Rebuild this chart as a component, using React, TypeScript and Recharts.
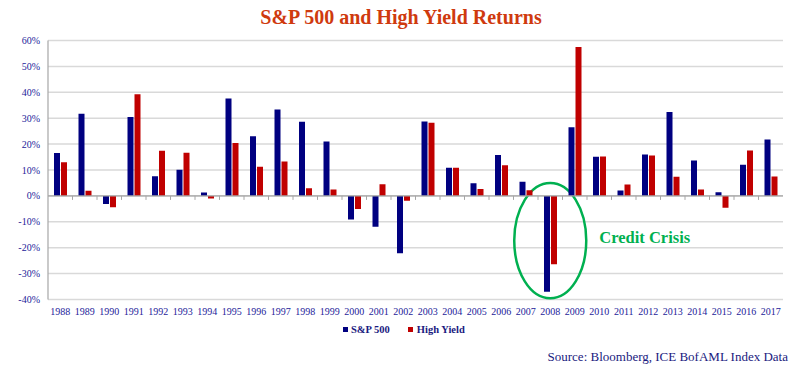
import React from "react";
import { BarChart, Bar, XAxis, YAxis, CartesianGrid, ReferenceLine, ReferenceArea } from "recharts";

const years = ["1988","1989","1990","1991","1992","1993","1994","1995","1996","1997","1998","1999","2000","2001","2002","2003","2004","2005","2006","2007","2008","2009","2010","2011","2012","2013","2014","2015","2016","2017"];
const sp500 = [16.6, 31.7, -3.1, 30.5, 7.6, 10.1, 1.3, 37.6, 23.0, 33.4, 28.6, 21.0, -9.1, -11.9, -22.1, 28.7, 10.9, 4.9, 15.8, 5.5, -37.0, 26.5, 15.1, 2.1, 16.0, 32.4, 13.7, 1.4, 12.0, 21.8];
const highYield = [13.0, 2.0, -4.4, 39.2, 17.4, 16.7, -1.0, 20.4, 11.3, 13.3, 3.0, 2.5, -5.1, 4.5, -1.9, 28.2, 10.9, 2.7, 11.8, 2.2, -26.4, 57.5, 15.2, 4.4, 15.6, 7.4, 2.5, -4.6, 17.5, 7.5];
const yTicks = [-40, -30, -20, -10, 0, 10, 20, 30, 40, 50, 60];

const data = years.map((y, i) => ({ year: y, sp: sp500[i], hy: highYield[i] }));

const SERIF = '"Liberation Serif", "Times New Roman", serif';
const NAVY = "#000080";
const RED = "#C00000";
const TICK_COLOR = "#23239a";

const ZeroLine = (props: any) => {
  const { x1, y1, x2, y2 } = props;
  const n = years.length;
  const step = (x2 - x1) / n;
  const ticks = [];
  for (let i = 1; i < n; i++) {
    const x = x1 + step * i;
    ticks.push(<line key={i} x1={x} x2={x} y1={y1} y2={y1 + 4} stroke="#a6a6a6" strokeWidth={1} />);
  }
  return (
    <g>
      <line x1={x1} y1={y1} x2={x2} y2={y2} stroke="#a6a6a6" strokeWidth={1.2} />
      {ticks}
    </g>
  );
};

const CrisisShape = (props: any) => {
  const { x, y, width, height } = props;
  const cx = x + width / 2;
  const cy = y + height / 2;
  const rx = width * 1.47;
  const ry = height / 2;
  return (
    <g>
      <ellipse cx={cx} cy={cy} rx={rx} ry={ry} fill="none" stroke="#00B050" strokeWidth={2.5} />
      <text x={cx + rx + 13} y={cy + 2} fill="#00B050" fontFamily={SERIF} fontWeight="bold" fontSize={16.5}>
        Credit Crisis
      </text>
    </g>
  );
};

export default function App() {
  return (
    <div style={{ position: "absolute", left: 0, top: 0, width: 797, height: 371, background: "#fff", fontFamily: SERIF }}>
      <div style={{ position: "absolute", left: 0, top: 5, width: 802, textAlign: "center", color: "#CF3A0E", fontWeight: "bold", fontSize: 20, lineHeight: "24px" }}>
        S&amp;P 500 and High Yield Returns
      </div>
      <BarChart width={797} height={371} data={data} margin={{ top: 40.5, right: 14, left: 0, bottom: 51.5 }} barSize={6} barGap={1} barCategoryGap={0}>
        <CartesianGrid vertical={false} stroke="#d9d9d9" strokeWidth={1.5} />
        <XAxis dataKey="year" axisLine={false} tickLine={false} tickSize={0} tickMargin={8} height={20} interval={0}
          tick={{ fill: TICK_COLOR, fontSize: 10, fontFamily: SERIF }} />
        <YAxis domain={[-40, 60]} ticks={yTicks} width={48} tickLine={false} tickSize={0} tickMargin={8}
          axisLine={{ stroke: "#a6a6a6", strokeWidth: 1.2 }} tickFormatter={(v: number) => `${v}%`}
          tick={{ fill: TICK_COLOR, fontSize: 10, fontFamily: SERIF }} allowDataOverflow />
        <YAxis yAxisId="r" orientation="right" domain={[-40, 60]} width={0} tick={false} tickLine={false}
          axisLine={{ stroke: "#d9d9d9", strokeWidth: 1.5 }} />
        <ReferenceLine y={0} shape={ZeroLine} />
        <Bar dataKey="sp" name="S&P 500" fill={NAVY} isAnimationActive={false} />
        <Bar dataKey="hy" name="High Yield" fill={RED} isAnimationActive={false} />
        <ReferenceArea x1="2008" x2="2008" y1={-39.5} y2={5} shape={CrisisShape} ifOverflow="visible" />
      </BarChart>
      <div style={{ position: "absolute", left: 343, top: 324, display: "flex", alignItems: "center", fontWeight: "bold", fontSize: 10.5, color: "#1a1a80", whiteSpace: "nowrap" }}>
        <span style={{ display: "inline-block", width: 5, height: 5, background: NAVY, marginRight: 3 }} />
        <span>S&amp;P 500</span>
        <span style={{ display: "inline-block", width: 5, height: 5, background: RED, marginLeft: 18, marginRight: 4 }} />
        <span>High Yield</span>
      </div>
      <div style={{ position: "absolute", right: 9, top: 349, fontSize: 13, color: "#1a1a80", whiteSpace: "nowrap" }}>
        Source: Bloomberg, ICE BofAML Index Data
      </div>
    </div>
  );
}
